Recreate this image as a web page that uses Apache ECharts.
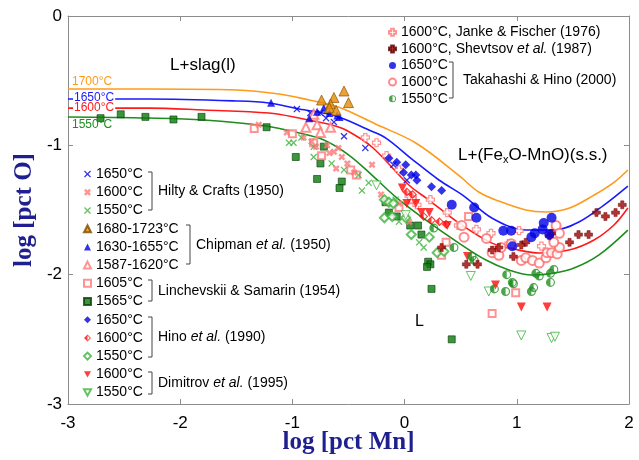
<!DOCTYPE html>
<html>
<head>
<meta charset="utf-8">
<script src="https://cdn.jsdelivr.net/npm/echarts/dist/echarts.min.js"></script>
<style>
html,body{margin:0;padding:0;background:#fff}
#chart{width:639px;height:460px}
</style>
</head>
<body>
<div id="chart"></div>
<script>
// axis ranges / ticks
var xMin = -3, xMax = 2, yMin = -3, yMax = 0;

// liquidus-type curves, log[pct Mn] vs log[pct O]
var curve1700 = [[-3,-0.565],[-2.28,-0.565],[-1.5,-0.572],[-1.12,-0.603],[-0.85,-0.65],[-0.59,-0.704],[-0.26,-0.835],[0.10,-0.982],[0.48,-1.23],[0.66,-1.361],[0.84,-1.431],[1.08,-1.50],[1.26,-1.516],[1.47,-1.485],[1.69,-1.384],[1.87,-1.284],[1.99,-1.191]];
var curve1650 = [[-3,-0.642],[-2.28,-0.642],[-1.5,-0.657],[-1.21,-0.673],[-0.94,-0.719],[-0.675,-0.758],[-0.54,-0.797],[-0.318,-0.882],[-0.167,-0.944],[0.065,-1.106],[0.306,-1.268],[0.529,-1.392],[0.778,-1.562],[1.081,-1.655],[1.33,-1.655],[1.554,-1.593],[1.777,-1.462],[1.99,-1.315]];
var curve1600 = [[-3,-0.712],[-2.28,-0.712],[-1.79,-0.727],[-1.21,-0.75],[-0.94,-0.789],[-0.648,-0.843],[-0.523,-0.882],[-0.291,-1.013],[0.038,-1.307],[0.217,-1.423],[0.484,-1.601],[0.778,-1.756],[1.019,-1.81],[1.197,-1.833],[1.465,-1.81],[1.688,-1.732],[1.866,-1.616],[1.99,-1.485]];
var curve1550 = [[-3,-0.781],[-2.28,-0.789],[-1.79,-0.804],[-1.236,-0.851],[-0.94,-0.905],[-0.72,-0.959],[-0.497,-1.075],[-0.291,-1.23],[-0.078,-1.40],[0.19,-1.578],[0.484,-1.756],[0.725,-1.887],[0.93,-1.964],[1.135,-2.003],[1.33,-1.988],[1.51,-1.949],[1.73,-1.849],[1.99,-1.655]];

// measured data
var janke1600 = [[-0.35,-0.94],[-0.25,-0.98],[-0.16,-1.08],[-0.05,-1.19],[0.04,-1.39],[0.11,-1.46],[0.23,-1.42],[0.38,-1.52],[0.48,-1.62],[0.64,-1.65],[0.77,-1.68],[0.93,-1.76],[1.02,-1.66],[1.22,-1.78]];
var shevtsov1600 = [[0.33,-1.79],[0.55,-1.92],[0.65,-1.92],[0.78,-1.81],[0.84,-1.79],[0.97,-1.86],[1.04,-1.77],[1.08,-1.75],[1.29,-1.70],[1.31,-1.68],[1.47,-1.75],[1.55,-1.69],[1.64,-1.69],[1.71,-1.52],[1.79,-1.55],[1.88,-1.52],[1.94,-1.46]];
var takahashi1650 = [[0.42,-1.46],[0.62,-1.48],[0.64,-1.56],[0.88,-1.66],[0.95,-1.66],[0.96,-1.78],[1.13,-1.71],[1.16,-1.68],[1.23,-1.65],[1.24,-1.60],[1.31,-1.56],[1.29,-1.69]];
var takahashi1600 = [[0.51,-1.62],[0.53,-1.71],[0.73,-1.72],[0.78,-1.83],[0.84,-1.85],[0.86,-1.79],[0.95,-1.76],[1.04,-1.89],[1.08,-1.87],[1.14,-1.89],[1.20,-1.91],[1.26,-1.87],[1.27,-1.83],[1.31,-1.83],[1.36,-1.84],[1.38,-1.79],[1.33,-1.75],[1.35,-1.62],[1.38,-1.68]];
var takahashi1550 = [[0.26,-1.64],[0.44,-1.79],[0.60,-1.86],[0.62,-1.89],[0.80,-2.11],[0.90,-2.13],[0.91,-2.00],[0.96,-2.06],[0.97,-2.07],[1.13,-2.13],[1.15,-2.10],[1.17,-1.99],[1.20,-2.01],[1.30,-1.99],[1.33,-1.96],[1.30,-2.06]];
var hilty1650 = [[-0.96,-0.72],[-0.84,-0.75],[-0.75,-0.75],[-0.70,-0.79],[-0.63,-0.82],[-0.54,-0.93],[-0.35,-1.02],[-0.10,-1.15],[0.02,-1.27]];
var hilty1600 = [[-1.30,-0.84],[-1.05,-0.90],[-0.90,-0.94],[-0.83,-0.97],[-0.79,-1.01],[-0.69,-1.00],[-0.67,-1.06],[-0.59,-1.02],[-0.56,-1.09],[-0.51,-1.14],[-0.29,-1.15],[-0.63,-1.05],[-0.61,-1.18],[-0.45,-1.21],[-0.21,-1.38],[-0.16,-1.44],[-0.05,-1.45],[0.04,-1.59]];
var hilty1550 = [[-1.03,-0.98],[-0.99,-0.98],[-0.92,-0.94],[-0.81,-1.01],[-0.81,-1.09],[-0.65,-1.14],[-0.54,-1.19],[-0.41,-1.23],[-0.38,-1.35],[-0.32,-1.29],[-0.08,-1.42],[-0.05,-1.59],[0.13,-1.75],[0.17,-1.79]];
var chipmanHigh = [[-0.54,-0.58],[-0.63,-0.63],[-0.50,-0.67],[-0.74,-0.65],[-0.66,-0.68],[-0.67,-0.71],[-0.61,-0.73]];
var chipmanMid = [[-1.19,-0.67],[-0.85,-0.79],[-0.78,-0.74],[-0.72,-0.71],[-0.67,-0.75],[-0.60,-0.77],[-0.58,-0.78]];
var chipmanLow = [[-0.88,-0.86],[-0.81,-0.76],[-0.78,-0.84],[-0.75,-0.90],[-0.66,-0.86]];
var linch1605 = [[-1.34,-0.87],[-1.00,-0.91],[-0.81,-0.98],[-0.74,-1.08],[-0.48,-1.19],[-0.43,-1.23],[-0.05,-1.48],[0.07,-1.42],[0.37,-1.75],[0.33,-1.85],[0.57,-1.55],[0.78,-2.30],[0.99,-2.14]];
var linch1565 = [[-2.71,-0.79],[-2.53,-0.76],[-2.31,-0.78],[-2.06,-0.80],[-1.81,-0.78],[-1.23,-0.86],[-0.97,-1.09],[-0.78,-1.26],[-0.75,-1.14],[-0.72,-1.01],[-0.56,-1.28],[-0.58,-1.33],[-0.17,-1.44],[-0.14,-1.52],[-0.07,-1.55],[0.05,-1.62],[0.12,-1.62],[0.15,-1.69],[0.21,-1.90],[0.23,-1.92],[0.20,-1.94],[0.24,-2.11],[0.42,-2.50]];
var hino1650 = [[-0.14,-1.10],[-0.07,-1.13],[0.01,-1.15],[-0.01,-1.21],[0.06,-1.23],[0.10,-1.23],[0.11,-1.27],[0.24,-1.32],[0.33,-1.35]];
var hino1600 = [[0.02,-1.36],[0.07,-1.38],[0.17,-1.55],[0.24,-1.58],[0.31,-1.59],[0.37,-1.61]];
var hino1550 = [[-0.18,-1.42],[-0.14,-1.44],[-0.10,-1.45],[-0.18,-1.56],[-0.11,-1.55],[0.01,-1.56],[0.06,-1.69],[0.22,-1.71],[0.29,-1.83],[0.35,-1.82]];
var dimitrov1600 = [[-0.02,-1.33],[0.02,-1.45],[0.10,-1.45],[0.15,-1.52],[0.22,-1.52],[0.38,-1.62],[0.56,-1.86],[0.81,-2.08],[1.04,-2.25],[1.27,-2.25]];
var dimitrov1550 = [[-0.25,-1.31],[0.01,-1.54],[0.59,-2.01],[0.75,-2.13],[1.04,-2.47],[1.31,-2.49],[1.34,-2.48]];

// legend labels
var labels = {
  janke1600: '1600°C, Janke & Fischer (1976)',
  shevtsov1600: '1600°C, Shevtsov {it|et al.} (1987)',
  takahashi1650: '1650°C', takahashi1600: '1600°C', takahashi1550: '1550°C',
  hilty1650: '1650°C', hilty1600: '1600°C', hilty1550: '1550°C',
  chipmanHigh: '1680-1723°C', chipmanMid: '1630-1655°C', chipmanLow: '1587-1620°C',
  linch1605: '1605°C', linch1565: '1565°C',
  hino1650: '1650°C', hino1600: '1600°C', hino1550: '1550°C',
  dimitrov1600: '1600°C', dimitrov1550: '1550°C'
};

var X_THIN = 'path://M0,1.3L1.3,0L5,3.7L8.7,0L10,1.3L6.3,5L10,8.7L8.7,10L5,6.3L1.3,10L0,8.7L3.7,5Z';
var X_THICK = 'path://M0,2.5L2.5,0L5,2.5L7.5,0L10,2.5L7.5,5L10,7.5L7.5,10L5,7.5L2.5,10L0,7.5L2.5,5Z';
var PLUS = 'path://M3,0L7,0L7,3L10,3L10,7L7,7L7,10L3,10L3,7L0,7L0,3L3,3Z';
var HALF_CIRCLE = 'path://M5,0A5,5 0 1 1 5,10A5,5 0 1 1 5,0ZM5,1.3A3.7,3.7 0 1 0 5,8.7A3.7,3.7 0 1 0 5,1.3ZM5,1.3A3.7,3.7 0 0 0 5,8.7Z';
var HALF_DIAMOND = 'path://M5,0L10,5L5,10L0,5ZM5,1.7L1.7,5L5,8.3L8.3,5ZM5,1.7L1.7,5L5,8.3Z';
var DOWN_TRI = 'path://M0,0L10,0L5,9Z';

var PINK = '#ff7878', LGREEN = '#3cb43c', BLUE = '#0000e6', RED = '#ff0a0a', DGREEN = '#0a7a0a';

function line(data, color) {
  return {type:'line', data:data, smooth:0.35, symbol:'none', silent:true, z:1,
    lineStyle:{color:color, width:1.6}};
}
function sc(name, data, symbol, size, style) {
  return {type:'scatter', name:name, data:data, symbol:symbol, symbolSize:size, itemStyle:style, z:3};
}

var series = [
  line(curve1700, '#ff9a1a'),
  line(curve1650, '#1a1aff'),
  line(curve1600, '#ff1a1a'),
  line(curve1550, '#1e8c1e'),
  sc('linch1565', linch1565, 'rect', 7, {color:DGREEN, borderColor:'#0b3d0b', borderWidth:0.8}),
  sc('linch1605', linch1605, 'emptyRect', 7, {color:PINK, borderWidth:1}),
  sc('hilty1550', hilty1550, X_THIN, 7, {color:LGREEN}),
  sc('hilty1600', hilty1600, X_THICK, 7, {color:PINK}),
  sc('hilty1650', hilty1650, X_THIN, 7, {color:BLUE}),
  sc('chipmanLow', chipmanLow, 'emptyTriangle', 9, {color:PINK, borderWidth:1}),
  sc('chipmanMid', chipmanMid, 'triangle', 8, {color:BLUE}),
  sc('chipmanHigh', chipmanHigh, 'triangle', 10, {color:'#e68a00', borderColor:'#7a4a00', borderWidth:0.8}),
  sc('janke1600', janke1600, PLUS, 8, {color:'#fff', borderColor:PINK, borderWidth:1.2}),
  sc('hino1550', hino1550, 'emptyDiamond', 9, {color:LGREEN, borderWidth:1}),
  sc('hino1600', hino1600, HALF_DIAMOND, 9, {color:RED}),
  sc('hino1650', hino1650, 'diamond', 9, {color:BLUE}),
  sc('dimitrov1550', dimitrov1550, DOWN_TRI, 9, {color:'#fff', borderColor:LGREEN, borderWidth:1}),
  sc('dimitrov1600', dimitrov1600, DOWN_TRI, 9, {color:RED}),
  sc('takahashi1550', takahashi1550, HALF_CIRCLE, 9, {color:'#1e8c1e'}),
  sc('takahashi1600', takahashi1600, 'emptyCircle', 9, {color:'#ff6b6b', borderWidth:1}),
  sc('shevtsov1600', shevtsov1600, PLUS, 8, {color:'#a30000', borderColor:'#5a0000', borderWidth:0.5}),
  sc('takahashi1650', takahashi1650, 'circle', 10, {color:BLUE})
];

var legendText = {fontSize:14, fontFamily:'Arial, "Liberation Sans"', color:'#000',
  rich:{it:{fontSize:14, fontStyle:'italic', fontFamily:'Arial, "Liberation Sans"'}}};
function legendFmt(n) { return labels[n]; }

var font = 'Arial, "Liberation Sans"';
var graphics = [];
function txt(x, y, text, size, color, extra) {
  var st = {text:text, x:x, y:y, fontSize:size, fontFamily:font, fill:color || '#000', verticalAlign:'middle', align:'left',
    rich:{it:{fontSize:size, fontFamily:font, fontStyle:'italic'}, sub:{fontSize:11, fontFamily:font, padding:[9,0,0,0]}}};
  for (var k in extra) st[k] = extra[k];
  graphics.push({type:'text', z:100, style:st});
}
function bracket(x, y1, y2) {
  graphics.push({type:'polyline', z:100, shape:{points:[[x-4,y1],[x,y1],[x,y2],[x-4,y2]]},
    style:{stroke:'#444', lineWidth:1, fill:null}});
}

txt(170, 65, 'L+slag(l)', 17);
txt(458, 155, 'L+(Fe{sub|x}O-MnO)(s.s.)', 17);
txt(415, 322, 'L', 16);
txt(72, 82, '1700°C', 12, '#ff9a1a');
txt(73, 98, '1650°C', 12, '#1a1aff', {backgroundColor:'#fff', padding:[0,1,0,1]});
txt(73, 108, '1600°C', 12, '#ff1a1a', {backgroundColor:'#fff', padding:[0,1,0,1]});
txt(72, 125, '1550°C', 12, '#1e8c1e');

bracket(453, 62, 98);  txt(463, 80, 'Takahashi & Hino (2000)', 14);
bracket(152, 172, 210); txt(158, 191, 'Hilty & Crafts (1950)', 14);
bracket(190, 225, 264); txt(196, 245, 'Chipman {it|et al.} (1950)', 14);
bracket(152, 280, 301); txt(158, 291, 'Linchevskii & Samarin (1954)', 14);
bracket(152, 317, 357); txt(158, 337, 'Hino {it|et al.} (1990)', 14);
bracket(152, 372, 394); txt(158, 383, 'Dimitrov {it|et al.} (1995)', 14);

var axisLine = {onZero:false, lineStyle:{color:'#8c8c8c', width:1}};
var axisTick = {inside:true, length:5, lineStyle:{color:'#8c8c8c'}};
var titleStyle = {fontFamily:'"Times New Roman", "Liberation Serif", serif', fontWeight:'bold', fontSize:25, color:'#1f1f8f'};

var option = {
  animation: false,
  backgroundColor: '#fff',
  grid: {left:68, right:10, top:16, bottom:56, containLabel:false, outerBoundsMode:'none'},
  xAxis: [
    {type:'value', min:xMin, max:xMax, interval:1, position:'bottom',
      axisLine:axisLine, axisTick:axisTick, splitLine:{show:false},
      axisLabel:{color:'#000', fontSize:17, fontFamily:font, margin:11, showMinLabel:true, showMaxLabel:true},
      name:'log [pct Mn]', nameLocation:'middle', nameGap:26, nameMoveOverlap:false, nameTextStyle:titleStyle},
    {type:'value', min:xMin, max:xMax, interval:1, position:'top',
      axisLine:axisLine, axisTick:axisTick, splitLine:{show:false}, axisLabel:{show:false}}
  ],
  yAxis: [
    {type:'value', min:yMin, max:yMax, interval:1, position:'left',
      axisLine:axisLine, axisTick:axisTick, splitLine:{show:false},
      axisLabel:{color:'#000', fontSize:17, fontFamily:font, margin:6, showMinLabel:true, showMaxLabel:true},
      name:'log [pct O]', nameLocation:'middle', nameGap:31, nameMoveOverlap:false, nameTextStyle:titleStyle},
    {type:'value', min:yMin, max:yMax, interval:1, position:'right',
      axisLine:axisLine, axisTick:axisTick, splitLine:{show:false}, axisLabel:{show:false}}
  ],
  legend: [
    {orient:'vertical', left:383, top:19, itemWidth:7, itemHeight:7, itemGap:0, selectedMode:false,
      data:['janke1600','shevtsov1600','takahashi1650','takahashi1600','takahashi1550'],
      formatter:legendFmt, textStyle:Object.assign({lineHeight:16.6}, legendText)},
    {orient:'vertical', left:78, top:160, itemWidth:7, itemHeight:7, itemGap:0, selectedMode:false,
      data:['hilty1650','hilty1600','hilty1550','chipmanHigh','chipmanMid','chipmanLow','linch1605','linch1565',
            'hino1650','hino1600','hino1550','dimitrov1600','dimitrov1550'],
      formatter:legendFmt, textStyle:Object.assign({lineHeight:18.2}, legendText)}
  ],
  graphic: graphics,
  series: series
};

var chart = echarts.init(document.getElementById('chart'));
chart.setOption(option);
</script>
</body>
</html>
